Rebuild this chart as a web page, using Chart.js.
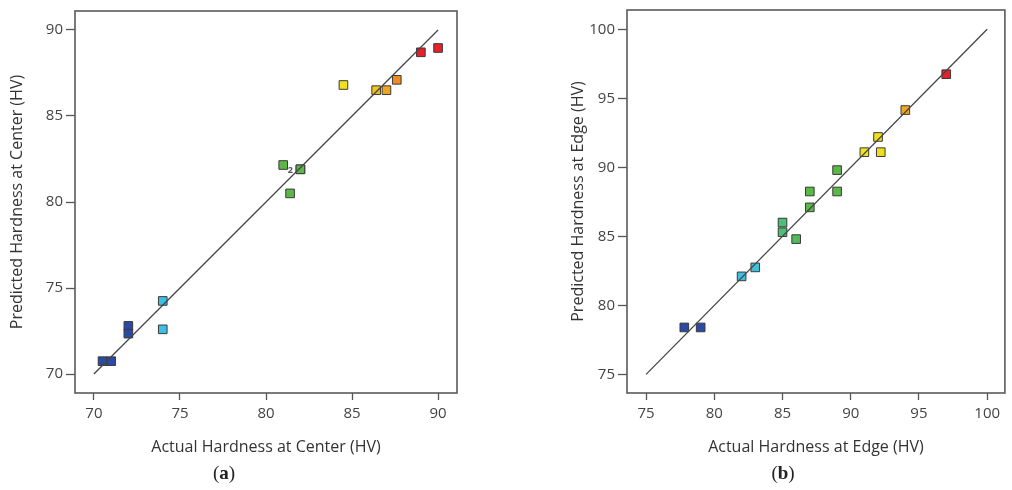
<!DOCTYPE html>
<html>
<head>
<meta charset="utf-8">
<script src="https://cdn.jsdelivr.net/npm/chart.js@4.4.1/dist/chart.umd.min.js"></script>
<style>
    body { margin: 0; background: #fff; width: 1012px; height: 490px; position: relative; overflow: hidden; }
    .panel { position: absolute; top: 0; }
    .tag { position: absolute; top: 462px; transform: translateX(-50%); font-family: 'Liberation Serif', serif; font-size: 19px; color: #222; }
</style>
</head>
<body>
<canvas id="centerChart" class="panel" width="500" height="490" style="left:0"></canvas>
<canvas id="edgeChart" class="panel" width="506" height="490" style="left:506px"></canvas>
<div class="tag" style="left:224px">(<b>a</b>)</div>
<div class="tag" style="left:783px">(<b>b</b>)</div>
<script>
// hardness at the center of the sample
const centerActual = [70.5, 71, 72, 72, 74, 74, 81, 81.4, 82, 82, 84.5, 86.4, 87, 87.6, 89, 90];
const centerPredicted = [70.75, 70.75, 72.8, 72.35, 74.25, 72.6, 82.15, 80.5, 81.9, 81.9, 86.8, 86.5, 86.5, 87.1, 88.7, 88.95];
const centerTicks = [70, 75, 80, 85, 90];
const centerFit = [70, 90];

// hardness at the edge of the sample
const edgeActual = [77.8, 79, 82, 83, 85, 85, 86, 87, 87, 89, 89, 91, 92, 92.2, 94, 97];
const edgePredicted = [78.4, 78.4, 82.1, 82.75, 86, 85.3, 84.8, 87.1, 88.25, 88.25, 89.8, 91.1, 92.2, 91.1, 94.15, 96.75];
const edgeTicks = [75, 80, 85, 90, 95, 100];
const edgeFit = [75, 100];

const FONT = 'Open Sans, sans-serif';

// blue -> cyan -> green -> yellow -> orange -> red, by position in the actual range
const colorStops = [
    [0, [43, 74, 168]],
    [0.1, [43, 74, 168]],
    [0.17, [62, 192, 232]],
    [0.27, [66, 192, 216]],
    [0.38, [77, 190, 112]],
    [0.48, [90, 184, 70]],
    [0.6, [92, 184, 70]],
    [0.68, [242, 230, 28]],
    [0.79, [240, 214, 30]],
    [0.88, [240, 136, 34]],
    [0.94, [232, 32, 42]],
    [1, [232, 32, 42]],
];

function hardnessColor(t) {
    for (let i = 1; i < colorStops.length; i++) {
        const [t1, c1] = colorStops[i];
        if (t <= t1) {
            const [t0, c0] = colorStops[i - 1];
            const f = t1 === t0 ? 0 : (t - t0) / (t1 - t0);
            const c = c0.map((v, k) => Math.round(v + (c1[k] - v) * f));
            return `rgb(${c.join(',')})`;
        }
    }
    return 'rgb(232,32,42)';
}

const framePlugin = {
    id: 'frame',
    afterDraw(chart) {
        const { ctx, chartArea: a } = chart;
        ctx.save();
        ctx.strokeStyle = '#5a5a5a';
        ctx.lineWidth = 1.6;
        ctx.strokeRect(a.left, a.top, a.right - a.left, a.bottom - a.top);
        ctx.restore();
    },
};

// small count next to points that sit on top of each other
const repeatPlugin = {
    id: 'repeats',
    afterDatasetsDraw(chart) {
        const pts = chart.data.datasets[1].data;
        const seen = {};
        pts.forEach(p => {
            const key = p.x + '|' + p.y;
            seen[key] = (seen[key] || 0) + 1;
        });
        const { ctx, scales } = chart;
        ctx.save();
        ctx.fillStyle = '#555';
        ctx.font = 'bold 9px ' + FONT;
        ctx.textAlign = 'center';
        ctx.textBaseline = 'middle';
        Object.keys(seen).forEach(key => {
            if (seen[key] < 2) return;
            const [x, y] = key.split('|').map(Number);
            ctx.fillText(String(seen[key]), scales.x.getPixelForValue(x) - 10, scales.y.getPixelForValue(y) + 1);
        });
        ctx.restore();
    },
};

function tickGrid(len) {
    return {
        drawOnChartArea: false,
        drawTicks: true,
        tickLength: len,
        tickColor: '#555',
        tickWidth: 1.3,
    };
}

function buildChart(id, cfg) {
    const points = cfg.actual.map((x, i) => ({ x, y: cfg.predicted[i] }));
    const lo = Math.min(...cfg.actual);
    const hi = Math.max(...cfg.actual);

    new Chart(document.getElementById(id), {
        type: 'scatter',
        data: {
            datasets: [{
                type: 'line',
                data: cfg.fit.map(v => ({ x: v, y: v })),
                borderColor: '#454545',
                borderWidth: 1.3,
                pointRadius: 0,
                fill: false,
                order: 0,
            }, {
                data: points,
                pointStyle: 'rect',
                pointRadius: 6.1,
                backgroundColor: ctx => ctx.raw ? hardnessColor((ctx.raw.x - lo) / (hi - lo)) : '#888',
                borderColor: '#3a3a3a',
                borderWidth: 1,
                order: 1,
            }],
        },
        options: {
            responsive: false,
            animation: false,
            layout: { padding: cfg.padding },
            plugins: {
                legend: { display: false },
                tooltip: { enabled: false },
            },
            scales: {
                x: {
                    type: 'linear',
                    min: cfg.xRange[0],
                    max: cfg.xRange[1],
                    afterBuildTicks: s => { s.ticks = cfg.ticks.map(value => ({ value })); },
                    afterFit: s => { s.height = 67; s.paddingLeft = 0; s.paddingRight = 0; },
                    border: { display: false },
                    grid: tickGrid(7),
                    ticks: { color: '#444', font: { family: FONT, size: 15 }, padding: 5, maxRotation: 0 },
                    title: {
                        display: true,
                        text: cfg.xTitle,
                        color: '#333',
                        font: { family: FONT, size: 16 },
                        padding: { top: 0, bottom: 3.4 },
                    },
                },
                y: {
                    type: 'linear',
                    min: cfg.yRange[0],
                    max: cfg.yRange[1],
                    afterBuildTicks: s => { s.ticks = cfg.ticks.map(value => ({ value })); },
                    afterFit: s => { s.width = cfg.axisWidth; s.paddingTop = 0; s.paddingBottom = 0; },
                    border: { display: false },
                    grid: tickGrid(9),
                    ticks: { color: '#444', font: { family: FONT, size: 15 }, padding: 3 },
                    title: {
                        display: true,
                        text: cfg.yTitle,
                        color: '#333',
                        font: { family: FONT, size: 16 },
                        padding: { top: cfg.titlePad, bottom: 0 },
                    },
                },
            },
        },
        plugins: [framePlugin, repeatPlugin],
    });
}

buildChart('centerChart', {
    actual: centerActual,
    predicted: centerPredicted,
    ticks: centerTicks,
    fit: centerFit,
    xRange: [68.9, 91.1],
    yRange: [68.9, 91.1],
    xTitle: 'Actual Hardness at Center (HV)',
    yTitle: 'Predicted Hardness at Center (HV)',
    padding: { left: 0, top: 11, right: 43, bottom: 30 },
    axisWidth: 75,
    titlePad: 8,
});

buildChart('edgeChart', {
    actual: edgeActual,
    predicted: edgePredicted,
    ticks: edgeTicks,
    fit: edgeFit,
    xRange: [73.6, 101.3],
    yRange: [73.65, 101.4],
    xTitle: 'Actual Hardness at Edge (HV)',
    yTitle: 'Predicted Hardness at Edge (HV)',
    padding: { left: 0, top: 10, right: 1, bottom: 30 },
    axisWidth: 121,
    titlePad: 63,
});
</script>
</body>
</html>
